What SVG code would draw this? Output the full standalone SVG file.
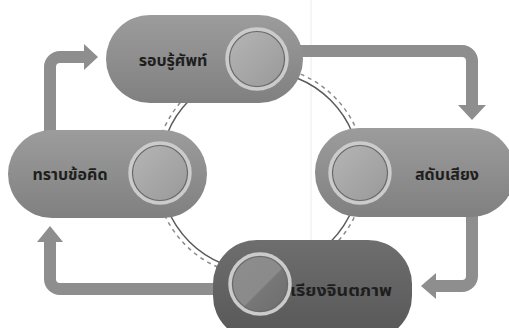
<svg xmlns="http://www.w3.org/2000/svg" width="509" height="328" viewBox="0 0 509 328">
<defs>
<linearGradient id="pill" x1="0" y1="0" x2="0" y2="1">
<stop offset="0" stop-color="#9c9c9c"/><stop offset="1" stop-color="#808080"/>
</linearGradient>
<linearGradient id="pillDark" x1="0" y1="0" x2="0" y2="1">
<stop offset="0" stop-color="#6e6e6e"/><stop offset="1" stop-color="#575757"/>
</linearGradient>
<linearGradient id="disc" x1="0" y1="0" x2="1" y2="1">
<stop offset="0" stop-color="#b6b6b6"/><stop offset="1" stop-color="#989898"/>
</linearGradient>
<linearGradient id="discDark" x1="0" y1="0" x2="1" y2="1">
<stop offset="0" stop-color="#8e8e8e"/><stop offset="0.55" stop-color="#8a8a8a"/><stop offset="0.56" stop-color="#777"/><stop offset="1" stop-color="#6c6c6c"/>
</linearGradient>
</defs>
<style>
.arrow{fill:none;stroke:#8e8e8e;stroke-width:12}
.head{fill:#8e8e8e}
.ring{fill:none;stroke:#cbcbcb;stroke-width:3.5}
.rim{fill:none;stroke:#6a6a6a;stroke-width:1.2}
.label{font-family:"Noto Sans Thai","Noto Sans","DejaVu Sans",sans-serif;font-size:16px;font-weight:bold;fill:#1e1e1e}
</style>
<rect width="509" height="328" fill="#ffffff"/>
<line x1="311" y1="0" x2="311" y2="328" stroke="#ececec" stroke-width="1"/>
<g id="connectors">
<circle cx="260" cy="171" r="103" fill="none" stroke="#ffffff" stroke-width="7"/>
<circle cx="260" cy="171" r="100" fill="none" stroke="#5a5a5a" stroke-width="1.5"/>
<circle cx="260" cy="171" r="105" fill="none" stroke="#8a8a8a" stroke-width="1.5" stroke-dasharray="4 4"/>
<path class="arrow" d="M298 51 H462 A10 10 0 0 1 472 61 V106"/>
<polygon class="head" points="458,105 486,105 472,120"/>
<path class="arrow" d="M472 212 V276 A10 10 0 0 1 462 286 H435"/>
<polygon class="head" points="436,273 436,299 421,286"/>
<path class="arrow" d="M220 289 H60 A10 10 0 0 1 50 279 V241"/>
<polygon class="head" points="37,242 63,242 50,226"/>
<path class="arrow" d="M50 134 V67 A10 10 0 0 1 60 57 H85"/>
<polygon class="head" points="84,44 84,70 98,57"/>
</g>
<g id="node-top">
<rect x="106" y="15" width="197" height="88" rx="44" fill="url(#pill)"/>
<text class="label" x="173" y="66" text-anchor="middle">รอบรู้ศัพท์</text>
<circle cx="257" cy="59" r="30" fill="url(#disc)"/>
<circle cx="257" cy="59" r="27.5" class="rim"/>
<circle cx="257" cy="59" r="30" class="ring"/>
</g>
<g id="node-right">
<rect x="315" y="128" width="200" height="89" rx="44" fill="url(#pill)"/>
<circle cx="360" cy="173" r="30" fill="url(#disc)"/>
<circle cx="360" cy="173" r="27.5" class="rim"/>
<circle cx="360" cy="173" r="30" class="ring"/>
<text class="label" x="447" y="180" text-anchor="middle">สดับเสียง</text>
</g>
<g id="node-left">
<rect x="8" y="130" width="199" height="88" rx="44" fill="url(#pill)"/>
<text class="label" x="70" y="180" text-anchor="middle">ทราบข้อคิด</text>
<circle cx="160" cy="173" r="30" fill="url(#disc)"/>
<circle cx="160" cy="173" r="27.5" class="rim"/>
<circle cx="160" cy="173" r="30" class="ring"/>
</g>
<g id="node-bottom">
<rect x="213" y="240" width="199" height="100" rx="44" fill="url(#pillDark)"/>
<text class="label" x="290" y="296" textLength="102" lengthAdjust="spacingAndGlyphs">เรียงจินตภาพ</text>
<circle cx="260" cy="284" r="30" fill="url(#discDark)"/>
<circle cx="260" cy="284" r="27.5" class="rim"/>
<circle cx="260" cy="284" r="30" class="ring"/>
</g>
</svg>
